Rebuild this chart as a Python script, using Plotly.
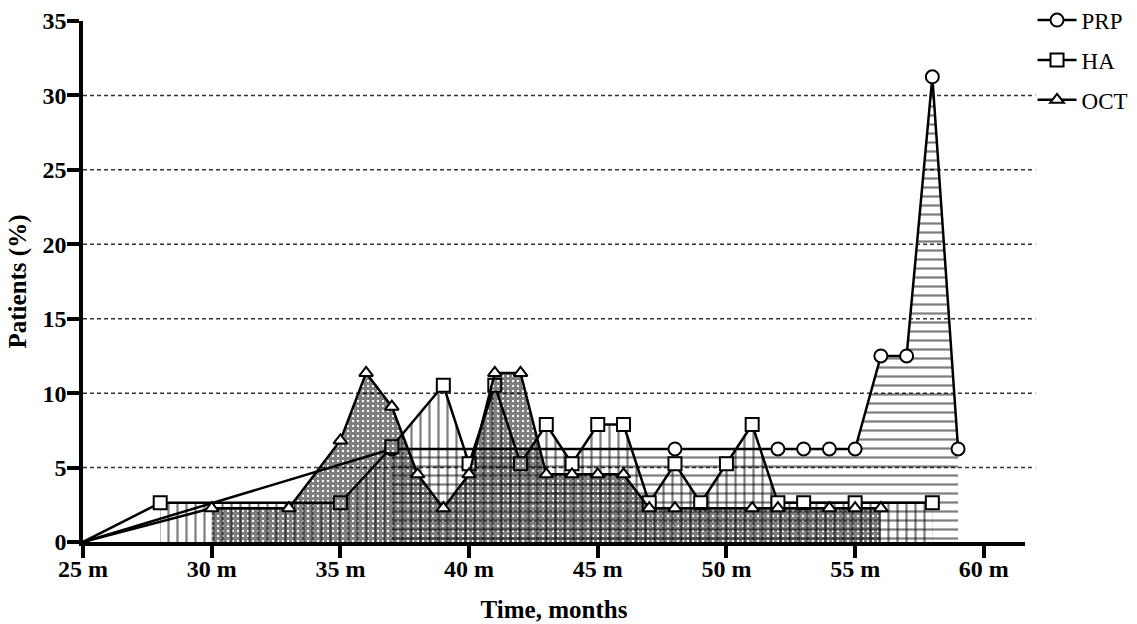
import plotly.graph_objects as go

# Percentage of patients per month of follow-up, by treatment group
START_MONTH = 25
START_VALUE = 0

prp_months = [37, 48, 52, 53, 54, 55, 56, 57, 58, 59]
prp_pct = [6.25, 6.25, 6.25, 6.25, 6.25, 6.25, 12.5, 12.5, 31.25, 6.25]

ha_months = [28, 35, 37, 39, 40, 41, 42, 43, 44, 45, 46, 47, 48, 49, 50, 51, 52, 53, 55, 58]
ha_pct = [2.63, 2.63, 6.4, 10.53, 5.26, 10.53, 5.26, 7.89, 5.26, 7.89, 7.89, 2.63,
          5.26, 2.63, 5.26, 7.89, 2.63, 2.63, 2.63, 2.63]

oct_months = [30, 33, 35, 36, 37, 38, 39, 40, 41, 42, 43, 44, 45, 46, 47, 48, 51, 52, 54, 55, 56]
oct_pct = [2.27, 2.27, 6.82, 11.36, 9.09, 4.55, 2.27, 4.55, 11.36, 11.36, 4.55, 4.55,
           4.55, 4.55, 2.27, 2.27, 2.27, 2.27, 2.27, 2.27, 2.27]

x_ticks = [25, 30, 35, 40, 45, 50, 55, 60]
x_labels = [f"{v} m" for v in x_ticks]
y_ticks = [0, 5, 10, 15, 20, 25, 30, 35]

SERIF = "Liberation Serif"

series = {
    "PRP": dict(x=prp_months, y=prp_pct, symbol="circle", size=13,
                pattern=dict(shape="-", fgcolor="black", size=9, solidity=0.25)),
    "HA": dict(x=ha_months, y=ha_pct, symbol="square", size=13,
               pattern=dict(shape="|", fgcolor="black", size=9, solidity=0.25)),
    "OCT": dict(x=oct_months, y=oct_pct, symbol="triangle-up", size=12,
                pattern=dict(shape="+", fgcolor="black", size=5, solidity=0.84)),
}

fig = go.Figure()


def add_area(name):
    s = series[name]
    fig.add_trace(go.Scatter(
        x=s["x"], y=s["y"], mode="lines", line=dict(width=0, color="rgba(0,0,0,0)"),
        fill="tozeroy", fillcolor="rgba(0,0,0,0)", fillpattern=s["pattern"],
        showlegend=False, hoverinfo="skip"))


def add_series(name):
    s = series[name]
    # segment from the origin to the first observation
    fig.add_trace(go.Scatter(
        x=[START_MONTH, s["x"][0]], y=[START_VALUE, s["y"][0]], mode="lines",
        line=dict(color="black", width=2.5), showlegend=False, hoverinfo="skip"))
    fig.add_trace(go.Scatter(
        x=s["x"], y=s["y"], mode="lines+markers", name=name, legendgroup=name,
        line=dict(color="black", width=2.5),
        marker=dict(symbol=s["symbol"], size=s["size"], color="white",
                    line=dict(color="black", width=2))))


# hatched areas for PRP and HA, then their lines; the OCT mesh is laid over them
add_area("PRP")
add_area("HA")
add_series("PRP")
add_series("HA")
add_area("OCT")
add_series("OCT")

# dashed horizontal guides at the interior y ticks
for yv in y_ticks[1:-1]:
    fig.add_shape(type="line", xref="paper", yref="y", x0=0, x1=1.011, y0=yv, y1=yv,
                  line=dict(color="#333", width=1.5, dash="4px,3px"), layer="below")

fig.update_layout(
    width=1137, height=624,
    margin=dict(l=83, r=112, t=21, b=82, autoexpand=False),
    plot_bgcolor="white", paper_bgcolor="white",
    font=dict(family=SERIF, color="black"),
    showlegend=True,
    legend=dict(x=1.008, y=1.043, xanchor="left", yanchor="top",
                font=dict(family=SERIF, size=23), tracegroupgap=7,
                bgcolor="rgba(0,0,0,0)", itemwidth=39),
    xaxis=dict(range=[25, 61.6], tickvals=x_ticks, ticktext=x_labels,
               showline=True, linecolor="black", linewidth=3.5,
               ticks="outside", ticklen=12, tickwidth=3.5, tickcolor="black",
               ticklabelstandoff=-10,
               showgrid=False, zeroline=False, automargin=False,
               tickfont=dict(family=SERIF, size=24, weight="bold"),
               title=dict(text="Time, months", font=dict(family=SERIF, size=25, weight="bold"),
                          standoff=21)),
    yaxis=dict(range=[0, 35], tickvals=y_ticks,
               showline=True, linecolor="black", linewidth=3.5,
               ticks="outside", ticklen=12, tickwidth=3.5, tickcolor="black",
               ticklabelstandoff=-4,
               showgrid=False, zeroline=False, automargin=False,
               tickfont=dict(family=SERIF, size=24, weight="bold"),
               title=dict(text="Patients (%)", font=dict(family=SERIF, size=25, weight="bold"),
                          standoff=10)),
)

fig.write_html("out.html")
